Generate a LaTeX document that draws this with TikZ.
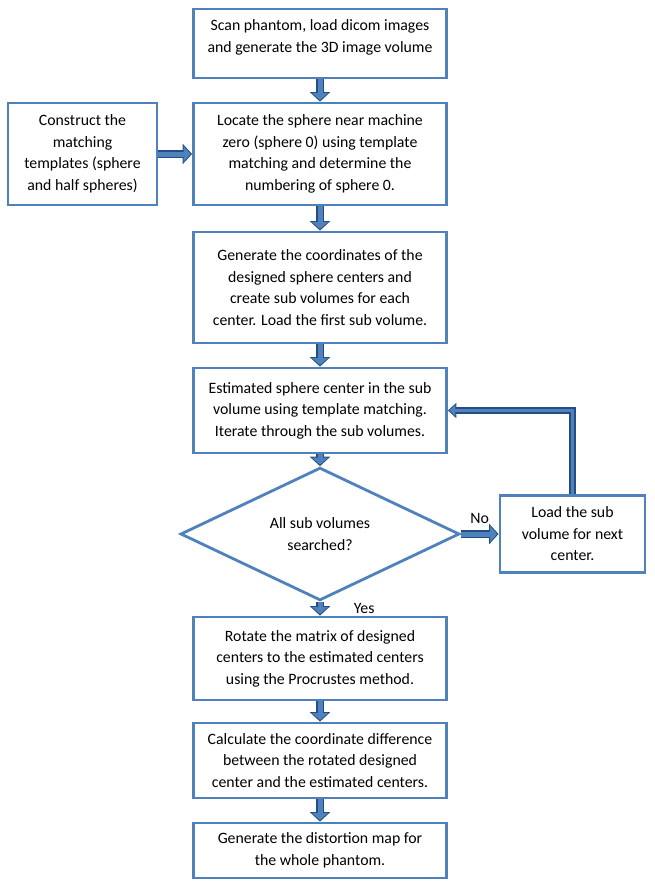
\documentclass[tikz,border=0pt]{standalone}
\usepackage{fontspec}
\setmainfont{Carlito}
\usepackage{xcolor}
\usepackage{tikz}
\usetikzlibrary{positioning,arrows.meta,shapes.geometric}

\definecolor{boxblue}{RGB}{79,129,189}
\definecolor{arrdark}{RGB}{36,78,130}
\definecolor{arrfill}{RGB}{79,129,189}

\begin{document}
\begin{tikzpicture}[x=1pt,y=-1pt,font=\fontsize{15.8}{21.5}\selectfont]

\useasboundingbox (0,0) rectangle (654,888);

\tikzstyle{mybox} = [draw=boxblue, line width=2.8pt, fill=white, rectangle, align=center, minimum width=253pt, inner sep=0pt]
\tikzstyle{mydiam} = [draw=boxblue, line width=2.8pt, fill=white, diamond, align=center, minimum width=279pt, minimum height=112pt, inner sep=0pt]
\tikzstyle{myarrow} = [draw=arrfill, line width=5pt, -{Triangle[length=7pt,width=15.5pt]}, shorten >=1.5pt, preaction={draw=arrdark, line width=8pt, shorten >=0pt, -{Triangle[length=9.5pt,width=20pt]}}]
\tikzstyle{backarrow} = [draw=arrfill, line width=3.5pt, -{Triangle[length=6pt,width=11pt]}, shorten >=1.5pt, preaction={draw=arrdark, line width=6.5pt, shorten >=0pt, -{Triangle[length=8.5pt,width=15pt]}}]

% main column
\node (scan) [mybox, minimum height=69pt] at (320,43.5) {Scan phantom, load dicom images\\and generate the 3D image volume\\[-7pt]\mbox{}};
\node (locate) [mybox, minimum height=102pt] at (320,154) {Locate the sphere near machine\\zero (sphere 0) using template\\matching and determine the\\numbering of sphere 0.};
\node (templ) [mybox, minimum width=149pt, minimum height=102pt] at (82.5,154) {Construct the\\matching\\templates (sphere\\and half spheres)};
\node (coords) [mybox, minimum height=111pt] at (320,287.5) {Generate the coordinates of the\\designed sphere centers and\\create sub volumes for each\\center. Load the first sub volume.};
\node (estim) [mybox, minimum height=85pt] at (320,410.5) {Estimated sphere center in the sub\\volume using template matching.\\Iterate through the sub volumes.};
\node (allsub) [mydiam] at (320,534) {All sub volumes\\searched?};
\node (nextc) [mybox, minimum width=145pt, minimum height=77pt] at (572.5,534) {Load the sub\\volume for next\\center.};
\node (rot) [mybox, minimum height=83pt] at (320,658.5) {Rotate the matrix of designed\\centers to the estimated centers\\using the Procrustes method.};
\node (diff) [mybox, minimum height=75pt] at (320,760.5) {Calculate the coordinate difference\\between the rotated designed\\center and the estimated centers.};
\node (map) [mybox, minimum height=55pt] at (320,850.5) {Generate the distortion map for\\the whole phantom.};

% connectors
\draw [myarrow] (scan) -- (locate);
\draw [myarrow] (templ) -- (locate);
\draw [myarrow] (locate) -- (coords);
\draw [myarrow] (coords) -- (estim);
\draw [myarrow] (estim) -- (allsub);
\draw [myarrow] (allsub) -- node [above=5pt, black] {No} (nextc);
\draw [myarrow] (allsub) -- node [right=28pt, black] {Yes} (rot);
\draw [myarrow] (rot) -- (diff);
\draw [myarrow] (diff) -- (map);
\draw [backarrow] (nextc) |- (estim);

\end{tikzpicture}
\end{document}
